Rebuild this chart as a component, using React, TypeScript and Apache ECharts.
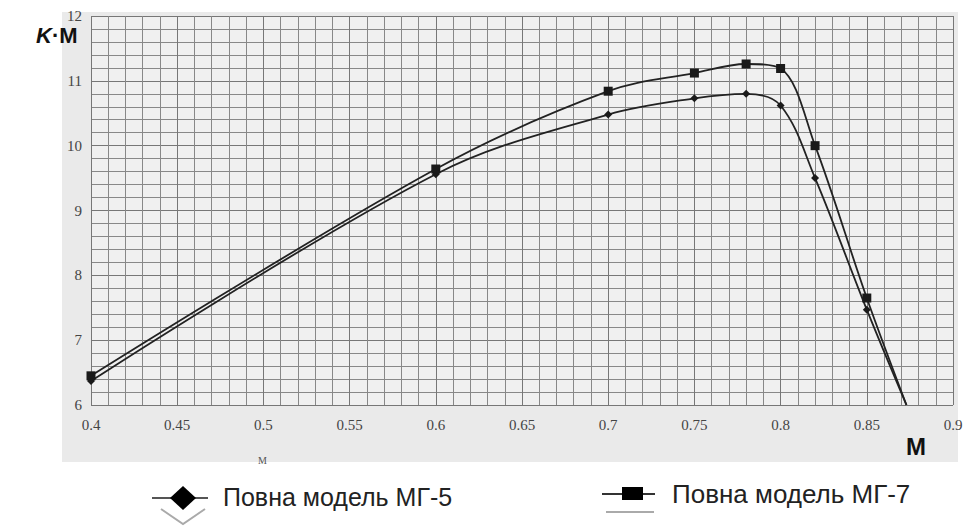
import React, { useEffect, useRef } from "react";
import * as echarts from "echarts";

const mValues = [0.4, 0.6, 0.7, 0.75, 0.78, 0.8, 0.82, 0.85, 0.873];
const mg5 = [6.37, 9.56, 10.48, 10.73, 10.8, 10.62, 9.5, 7.47, 6.0];
const mg7 = [6.45, 9.64, 10.84, 11.12, 11.26, 11.19, 10.0, 7.65, 6.0];
const xTicks = ["0.4", "0.45", "0.5", "0.55", "0.6", "0.65", "0.7", "0.75", "0.8", "0.85", "0.9"];
const legendNames = ["Повна модель МГ-5", "Повна модель МГ-7"];

export default function App() {
  const ref = useRef<HTMLDivElement>(null);
  useEffect(() => {
    if (!ref.current) return;
    const chart = echarts.init(ref.current, undefined, { renderer: "svg" });
    const pts = (ys: number[]) => mValues.map((x, i) => ({
      value: [x, ys[i]],
      symbolSize: i === mValues.length - 1 ? 0 : undefined,
    }));
    const serif = "Liberation Serif";
    const sans = "'Liberation Sans', Arial, sans-serif";
    chart.setOption({
      animation: false,
      backgroundColor: "#ffffff",
      grid: { left: 91, right: 14, top: 16, bottom: 121, show: true, backgroundColor: "#f0f0f0", borderWidth: 0 },
      graphic: [
        { type: "rect", z: -10, shape: { x: 62, y: 12, width: 896, height: 450 }, style: { fill: "#eaeaea" } },
        {
          type: "text", left: 36, top: 24,
          style: {
            text: "{k|K}{m|·M}",
            rich: {
              k: { font: `italic bold 22px ${sans}`, fill: "#111" },
              m: { font: `bold 22px ${sans}`, fill: "#111" },
            },
          },
        },
        { type: "text", left: 258, top: 455, style: { text: "M", font: `10px ${serif}`, fill: "#555" } },
        { type: "text", left: 906, top: 434, style: { text: "M", font: `bold 24px ${sans}`, fill: "#111" } },
        // legend 1
        { type: "line", shape: { x1: 152, y1: 498, x2: 208, y2: 498 }, style: { stroke: "#555", lineWidth: 2 } },
        { type: "polyline", shape: { points: [[161, 509], [183, 524], [205, 509]] }, style: { stroke: "#aaa", lineWidth: 2, fill: "none" } },
        { type: "polygon", shape: { points: [[183, 486], [196, 498], [183, 510], [170, 498]] }, style: { fill: "#000" } },
        { type: "text", left: 223, top: 484, style: { text: legendNames[0], font: `25px ${sans}`, fill: "#222" } },
        // legend 2
        { type: "line", shape: { x1: 602, y1: 494, x2: 655, y2: 494 }, style: { stroke: "#333", lineWidth: 2 } },
        { type: "line", shape: { x1: 606, y1: 512, x2: 654, y2: 512 }, style: { stroke: "#aaa", lineWidth: 2 } },
        { type: "rect", shape: { x: 622, y: 487, width: 21, height: 13 }, style: { fill: "#000" } },
        { type: "text", left: 672, top: 481, style: { text: legendNames[1], font: `26px ${sans}`, fill: "#222" } },
      ],
      xAxis: {
        type: "value",
        min: 0.4,
        max: 0.9,
        interval: 0.05,
        axisLine: { show: false },
        axisTick: { show: false },
        axisLabel: {
          margin: 12,
          color: "#444",
          fontFamily: serif,
          fontSize: 15,
          formatter: (v: number) => {
            const idx = Math.round((v - 0.4) / 0.05);
            return xTicks[idx] ?? "";
          },
        },
        splitLine: { show: true, lineStyle: { color: "#777", width: 1 } },
        minorTick: { show: false, splitNumber: 5 },
        minorSplitLine: { show: true, lineStyle: { color: "#888", width: 1 } },
      },
      yAxis: {
        type: "value",
        min: 6,
        max: 12,
        interval: 1,
        axisLine: { show: false },
        axisTick: { show: false },
        axisLabel: { margin: 9, color: "#444", fontFamily: serif, fontSize: 15 },
        splitLine: { show: true, lineStyle: { color: "#777", width: 1 } },
        minorTick: { show: false, splitNumber: 5 },
        minorSplitLine: { show: true, lineStyle: { color: "#888", width: 1 } },
      },
      series: [
        {
          name: legendNames[0],
          type: "line",
          smooth: 0.35,
          data: pts(mg5),
          symbol: "diamond",
          symbolSize: 8,
          itemStyle: { color: "#1a1a1a" },
          lineStyle: { color: "#222", width: 1.8 },
        },
        {
          name: legendNames[1],
          type: "line",
          smooth: 0.35,
          data: pts(mg7),
          symbol: "rect",
          symbolSize: 9,
          itemStyle: { color: "#1a1a1a" },
          lineStyle: { color: "#222", width: 1.8 },
        },
      ],
    });
    return () => chart.dispose();
  }, []);
  return <div ref={ref} style={{ width: 967, height: 526, position: "absolute", left: 0, top: 0 }} />;
}
